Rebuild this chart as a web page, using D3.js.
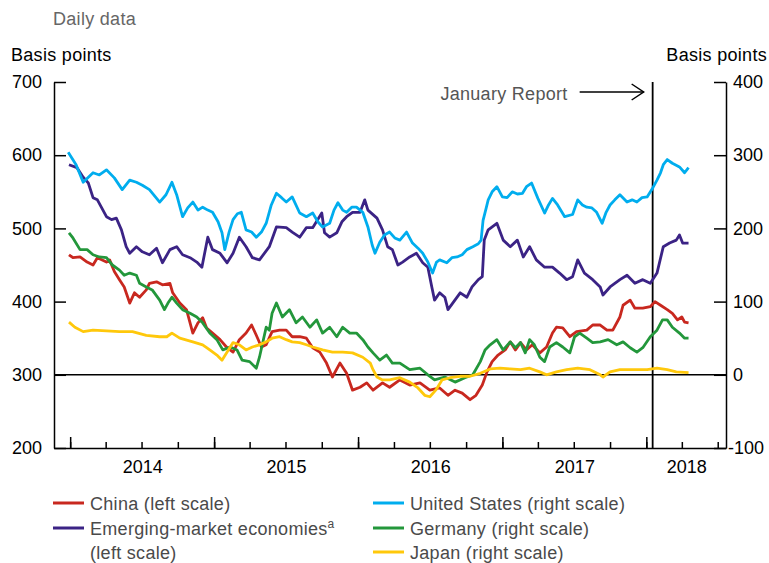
<!DOCTYPE html>
<html>
<head>
<meta charset="utf-8">
<script src="https://cdn.jsdelivr.net/npm/d3@7"></script>
<style>
  body { margin: 0; background: #fff; }
  svg text { font-family: "Liberation Sans", Arial, Helvetica, sans-serif; font-size: 18px; letter-spacing: 0.3px; }
  .axis path, .axis line { stroke: #000; stroke-width: 1.5; }
  .axis text { fill: #000; letter-spacing: 0; }
</style>
</head>
<body>
<svg id="chart" width="769" height="563"></svg>
<script>
// ----------------------------------------------------------------
// data (basis points)
// left scale: China, EME ; right scale: US, Germany, Japan
// ----------------------------------------------------------------
const chinaData = [
  ["2013-12-29",464],["2014-01-08",460],["2014-01-26",461],["2014-02-13",454],["2014-02-28",450],
  ["2014-03-11",460],["2014-04-03",454],["2014-04-11",457],["2014-04-23",441],["2014-05-06",430],
  ["2014-05-18",420],["2014-06-01",398],["2014-06-13",412],["2014-06-26",406],["2014-07-13",416],
  ["2014-07-21",425],["2014-08-08",427],["2014-08-23",423],["2014-09-11",425],["2014-09-18",412],
  ["2014-10-06",398],["2014-10-23",389],["2014-11-08",357],["2014-11-21",371],["2014-12-03",378],
  ["2014-12-13",364],["2014-12-28",357],["2015-01-16",348],["2015-02-03",337],["2015-02-18",331],
  ["2015-03-06",348],["2015-03-23",357],["2015-04-06",368],["2015-04-18",354],["2015-05-01",338],
  ["2015-05-13",341],["2015-05-28",359],["2015-06-16",361],["2015-07-03",361],["2015-07-18",352],
  ["2015-08-06",352],["2015-08-23",350],["2015-09-08",337],["2015-09-26",331],["2015-10-13",316],
  ["2015-10-28",297],["2015-11-16",316],["2015-12-03",302],["2015-12-18",279],["2016-01-06",283],
  ["2016-01-23",289],["2016-02-08",279],["2016-03-03",289],["2016-03-21",283],["2016-04-16",293],
  ["2016-05-11",286],["2016-06-06",289],["2016-07-01",279],["2016-07-26",282],["2016-08-16",272],
  ["2016-09-03",279],["2016-09-21",275],["2016-10-11",266],["2016-10-26",272],["2016-11-11",286],
  ["2016-11-23",304],["2016-12-06",318],["2016-12-21",327],["2017-01-08",334],["2017-01-21",345],
  ["2017-02-03",334],["2017-02-16",344],["2017-03-03",334],["2017-03-18",341],["2017-04-06",330],
  ["2017-04-23",338],["2017-05-08",357],["2017-05-18",365],["2017-06-03",364],["2017-06-21",352],
  ["2017-07-08",359],["2017-08-03",361],["2017-08-18",368],["2017-09-06",368],["2017-09-23",361],
  ["2017-10-08",361],["2017-10-26",379],["2017-11-03",395],["2017-11-21",402],["2017-12-03",391],
  ["2017-12-23",391],["2018-01-11",393],["2018-01-23",400],["2018-02-06",395],["2018-02-23",389],
  ["2018-03-08",384],["2018-03-21",375],["2018-04-01",379],["2018-04-08",372],["2018-04-18",371]
];

const emeData = [
  ["2013-12-29",587],["2014-01-18",583],["2014-02-03",570],["2014-02-16",562],["2014-02-28",542],
  ["2014-03-11",539],["2014-03-21",529],["2014-04-03",516],["2014-04-16",512],["2014-04-28",514],
  ["2014-05-11",498],["2014-05-23",475],["2014-06-01",466],["2014-06-18",475],["2014-07-03",468],
  ["2014-07-21",464],["2014-08-08",473],["2014-08-23",453],["2014-09-11",471],["2014-09-28",475],
  ["2014-10-13",464],["2014-11-01",460],["2014-11-18",454],["2014-12-01",447],["2014-12-16",488],
  ["2014-12-28",471],["2015-01-16",466],["2015-02-03",453],["2015-02-18",466],["2015-03-06",488],
  ["2015-03-23",475],["2015-04-08",460],["2015-04-26",457],["2015-05-21",475],["2015-06-08",502],
  ["2015-07-03",501],["2015-07-18",495],["2015-08-06",488],["2015-08-23",501],["2015-09-08",501],
  ["2015-10-01",521],["2015-10-08",494],["2015-10-21",488],["2015-11-08",494],["2015-11-21",509],
  ["2015-12-03",516],["2015-12-18",522],["2016-01-06",522],["2016-01-18",539],["2016-01-26",525],
  ["2016-02-18",514],["2016-03-03",498],["2016-03-16",475],["2016-03-28",471],["2016-04-11",450],
  ["2016-04-23",454],["2016-05-11",461],["2016-05-28",466],["2016-06-13",453],["2016-06-26",447],
  ["2016-07-06",420],["2016-07-13",402],["2016-07-26",412],["2016-08-08",406],["2016-08-16",389],
  ["2016-08-28",398],["2016-09-16",412],["2016-10-03",406],["2016-10-16",420],["2016-11-01",430],
  ["2016-11-11",434],["2016-11-16",484],["2016-11-26",498],["2016-12-18",507],["2017-01-03",484],
  ["2017-01-21",475],["2017-02-08",484],["2017-02-23",461],["2017-03-11",475],["2017-03-28",457],
  ["2017-04-18",447],["2017-05-08",447],["2017-05-26",439],["2017-06-13",430],["2017-06-28",434],
  ["2017-07-11",457],["2017-07-28",439],["2017-08-18",430],["2017-09-06",420],["2017-09-13",409],
  ["2017-10-01",420],["2017-10-26",430],["2017-11-13",436],["2017-12-03",425],["2017-12-23",430],
  ["2018-01-11",425],["2018-01-28",439],["2018-02-13",475],["2018-03-01",480],["2018-03-18",484],
  ["2018-03-26",491],["2018-04-03",480],["2018-04-18",480]
];

const usData = [
  ["2013-12-27",304],["2014-01-16",287],["2014-02-03",263],["2014-02-28",276],["2014-03-16",273],
  ["2014-04-03",280],["2014-04-23",269],["2014-05-13",253],["2014-06-01",266],["2014-06-18",263],
  ["2014-07-03",259],["2014-07-21",253],["2014-08-16",236],["2014-09-01",246],["2014-09-16",263],
  ["2014-09-28",246],["2014-10-13",216],["2014-10-26",228],["2014-11-08",236],["2014-11-21",225],
  ["2014-12-03",229],["2014-12-16",225],["2014-12-28",222],["2015-01-11",209],["2015-01-21",194],
  ["2015-01-28",171],["2015-02-08",195],["2015-02-18",212],["2015-03-01",220],["2015-03-11",222],
  ["2015-03-23",198],["2015-04-06",195],["2015-04-18",188],["2015-05-01",195],["2015-05-13",207],
  ["2015-05-26",232],["2015-06-08",248],["2015-06-21",242],["2015-07-03",236],["2015-07-18",243],
  ["2015-08-06",221],["2015-08-23",216],["2015-09-08",221],["2015-09-21",209],["2015-10-03",202],
  ["2015-10-21",207],["2015-11-01",225],["2015-11-11",235],["2015-11-23",225],["2015-12-03",222],
  ["2015-12-16",229],["2015-12-28",229],["2016-01-13",222],["2016-01-26",202],["2016-02-06",177],
  ["2016-02-13",166],["2016-02-25",181],["2016-03-08",191],["2016-03-21",195],["2016-04-03",187],
  ["2016-04-16",184],["2016-05-03",195],["2016-05-18",180],["2016-06-01",173],["2016-06-13",166],
  ["2016-06-26",154],["2016-07-08",139],["2016-07-18",154],["2016-07-26",157],["2016-08-13",153],
  ["2016-08-26",160],["2016-09-08",161],["2016-09-21",164],["2016-10-03",171],["2016-10-18",175],
  ["2016-11-01",179],["2016-11-08",184],["2016-11-13",211],["2016-11-21",228],["2016-11-26",239],
  ["2016-12-06",250],["2016-12-18",257],["2017-01-01",243],["2017-01-13",242],["2017-01-26",250],
  ["2017-02-08",247],["2017-02-21",248],["2017-03-03",257],["2017-03-16",262],["2017-04-01",241],
  ["2017-04-18",221],["2017-04-28",232],["2017-05-08",241],["2017-05-21",232],["2017-06-08",216],
  ["2017-06-28",219],["2017-07-11",239],["2017-07-23",232],["2017-08-03",229],["2017-08-16",228],
  ["2017-08-28",222],["2017-09-11",207],["2017-09-21",222],["2017-10-01",232],["2017-10-13",239],
  ["2017-10-26",246],["2017-11-13",236],["2017-11-26",239],["2017-12-08",236],["2017-12-21",242],
  ["2018-01-03",243],["2018-01-18",256],["2018-01-28",266],["2018-02-06",276],["2018-02-13",287],
  ["2018-02-23",294],["2018-03-08",289],["2018-03-26",284],["2018-04-08",276],["2018-04-18",283]
];

const germanyData = [
  ["2013-12-29",194],["2014-01-08",187],["2014-01-26",171],["2014-02-13",171],["2014-02-28",164],
  ["2014-03-16",161],["2014-04-03",160],["2014-04-18",150],["2014-05-06",143],["2014-05-18",136],
  ["2014-06-01",139],["2014-06-18",136],["2014-06-26",125],["2014-07-13",120],["2014-07-28",116],
  ["2014-08-16",102],["2014-08-28",89],["2014-09-06",98],["2014-09-16",106],["2014-09-28",98],
  ["2014-10-13",89],["2014-11-01",84],["2014-11-18",79],["2014-12-03",71],["2014-12-21",57],
  ["2015-01-08",48],["2015-01-23",34],["2015-02-11",38],["2015-02-28",34],["2015-03-13",20],
  ["2015-04-01",18],["2015-04-18",9],["2015-04-26",24],["2015-05-13",65],["2015-05-21",61],
  ["2015-05-28",84],["2015-06-08",98],["2015-06-23",79],["2015-07-11",89],["2015-07-28",71],
  ["2015-08-13",79],["2015-09-01",65],["2015-09-18",75],["2015-10-03",57],["2015-10-21",65],
  ["2015-11-08",52],["2015-11-23",65],["2015-12-11",57],["2015-12-28",57],["2016-01-13",48],
  ["2016-01-26",38],["2016-02-08",30],["2016-02-25",20],["2016-03-13",27],["2016-03-28",16],
  ["2016-04-16",16],["2016-05-11",7],["2016-06-06",9],["2016-06-26",0],["2016-07-13",-7],
  ["2016-08-08",-3],["2016-09-03",-10],["2016-09-28",-4],["2016-10-18",0],["2016-11-06",18],
  ["2016-11-18",34],["2016-12-01",41],["2016-12-18",48],["2017-01-03",34],["2017-01-21",45],
  ["2017-02-03",37],["2017-02-16",44],["2017-02-28",30],["2017-03-11",48],["2017-03-23",41],
  ["2017-04-06",24],["2017-04-18",18],["2017-05-01",38],["2017-05-18",44],["2017-06-03",38],
  ["2017-06-21",30],["2017-07-03",52],["2017-07-16",57],["2017-08-03",50],["2017-08-18",44],
  ["2017-09-06",45],["2017-09-26",48],["2017-10-18",41],["2017-11-03",45],["2017-11-21",37],
  ["2017-12-08",31],["2017-12-23",37],["2018-01-11",52],["2018-01-28",61],["2018-02-11",75],
  ["2018-02-23",75],["2018-03-08",65],["2018-03-26",57],["2018-04-08",50],["2018-04-18",50]
];

const japanData = [
  ["2013-12-29",72],["2014-01-13",65],["2014-02-03",59],["2014-02-28",61],["2014-04-03",60],
  ["2014-05-06",59],["2014-06-08",59],["2014-07-13",54],["2014-08-16",52],["2014-09-03",52],
  ["2014-09-16",57],["2014-10-06",50],["2014-11-08",45],["2014-12-03",41],["2014-12-21",34],
  ["2015-01-08",27],["2015-01-21",20],["2015-02-03",31],["2015-02-18",44],["2015-03-06",41],
  ["2015-03-23",34],["2015-04-08",38],["2015-04-26",41],["2015-05-13",45],["2015-05-28",50],
  ["2015-06-16",52],["2015-07-03",48],["2015-07-18",45],["2015-08-06",44],["2015-08-23",41],
  ["2015-09-08",38],["2015-10-03",34],["2015-10-28",31],["2015-11-23",31],["2015-12-18",30],
  ["2016-01-13",24],["2016-02-01",16],["2016-02-08",7],["2016-02-18",-3],["2016-03-03",-7],
  ["2016-03-21",-7],["2016-04-16",-4],["2016-05-11",-10],["2016-06-01",-18],["2016-06-18",-28],
  ["2016-07-01",-30],["2016-07-16",-21],["2016-08-01",-7],["2016-08-21",-4],["2016-09-16",-2],
  ["2016-10-11",-2],["2016-11-06",2],["2016-12-01",8],["2016-12-26",9],["2017-01-21",8],
  ["2017-02-16",7],["2017-03-11",9],["2017-04-06",4],["2017-04-23",0],["2017-05-18",4],
  ["2017-06-13",7],["2017-07-11",9],["2017-08-11",7],["2017-09-06",0],["2017-09-13",-3],
  ["2017-10-01",4],["2017-10-26",7],["2017-11-28",7],["2018-01-03",7],["2018-01-28",9],
  ["2018-02-23",7],["2018-03-18",4],["2018-04-18",3]
];

const leftTicks = [200, 300, 400, 500, 600, 700];
const rightTicks = [-100, 0, 100, 200, 300, 400];
const yearLabels = ["2014", "2015", "2016", "2017", "2018"];
const reportDate = "2018-01-17";

const series = [
  {name: "China (left scale)", data: chinaData, scale: "left", color: "#c8281f"},
  {name: "Emerging-market economies", sup: "a", name2: "(left scale)", data: emeData, scale: "left", color: "#3b2385"},
  {name: "United States (right scale)", data: usData, scale: "right", color: "#00adee"},
  {name: "Germany (right scale)", data: germanyData, scale: "right", color: "#23973b"},
  {name: "Japan (right scale)", data: japanData, scale: "right", color: "#ffc80b"}
];

// ----------------------------------------------------------------
// chart
// ----------------------------------------------------------------
const svg = d3.select('#chart');
const parse = d3.timeParse('%Y-%m-%d');

const plot = {left: 54, right: 726, top: 82, bottom: 448};

const x = d3.scaleTime()
    .domain([new Date(2013, 10, 21), new Date(2018, 6, 22)])
    .range([plot.left, plot.right]);
const yL = d3.scaleLinear().domain([200, 700]).range([plot.bottom, plot.top]);
const yR = d3.scaleLinear().domain([-100, 400]).range([plot.bottom, plot.top]);

// header texts
svg.append('text').attr('x', 53).attr('y', 25).attr('fill', '#666').text('Daily data');
svg.append('text').attr('x', 11).attr('y', 61).attr('fill', '#000').text('Basis points');
svg.append('text').attr('x', 767).attr('y', 61).attr('text-anchor', 'end')
    .attr('fill', '#000').text('Basis points');

// zero line of the right scale
svg.append('line')
    .attr('x1', plot.left).attr('x2', plot.right)
    .attr('y1', yR(0)).attr('y2', yR(0))
    .attr('stroke', '#000').attr('stroke-width', 1.5);

// january report marker
const rx = x(parse(reportDate));
svg.append('line')
    .attr('x1', rx).attr('x2', rx).attr('y1', plot.top).attr('y2', plot.bottom)
    .attr('stroke', '#000').attr('stroke-width', 1.8);
svg.append('line')
    .attr('x1', rx - 73).attr('x2', rx - 9).attr('y1', 92).attr('y2', 92)
    .attr('stroke', '#000').attr('stroke-width', 1.5);
svg.append('path')
    .attr('d', `M${rx - 21},84 L${rx - 9},92 L${rx - 21},100`)
    .attr('fill', 'none').attr('stroke', '#000').attr('stroke-width', 1.5);
svg.append('text')
    .attr('x', rx - 85).attr('y', 100).attr('text-anchor', 'end')
    .attr('fill', '#555').text('January Report');

// axes
svg.append('g')
    .attr('class', 'axis')
    .attr('transform', `translate(${plot.left},0)`)
    .call(d3.axisLeft(yL).tickValues(leftTicks).tickSize(-12).tickSizeOuter(0).tickPadding(12)
        .tickFormat(d => String(d)))
    .call(g => g.selectAll('text').style('font-size', '18px'));

svg.append('g')
    .attr('class', 'axis')
    .attr('transform', `translate(${plot.right},0)`)
    .call(d3.axisRight(yR).tickValues(rightTicks).tickSize(-12).tickSizeOuter(0).tickPadding(7)
        .tickFormat(d => String(d)))
    .call(g => g.selectAll('text').style('font-size', '18px')
        .attr('dx', d => d < 0 ? -5 : 0));

const quarters = d3.timeMonth.every(3).range(x.domain()[0], x.domain()[1]);
svg.append('g')
    .attr('class', 'axis')
    .attr('transform', `translate(0,${plot.bottom})`)
    .call(d3.axisBottom(x).tickValues(quarters).tickSize(-6).tickSizeOuter(0).tickFormat(''));

svg.append('g')
    .attr('class', 'axis')
    .attr('transform', `translate(0,${plot.bottom})`)
    .call(d3.axisBottom(x).tickValues(d3.timeYear.range(x.domain()[0], x.domain()[1]))
        .tickSize(-11).tickFormat(''))
    .call(g => g.select('.domain').remove());

// year labels, centred in the visible part of each year
const labelDates = yearLabels.map(yr => {
    const a = Math.max(new Date(+yr, 0, 1), x.domain()[0]);
    const b = Math.min(new Date(+yr + 1, 0, 1), x.domain()[1]);
    return new Date((a + b) / 2);
});
svg.append('g')
    .attr('class', 'axis')
    .attr('transform', `translate(0,${plot.bottom})`)
    .call(d3.axisBottom(x).tickValues(labelDates).tickSize(0).tickPadding(12)
        .tickFormat((d, i) => yearLabels[i]))
    .call(g => g.select('.domain').remove())
    .call(g => g.selectAll('text').style('font-size', '18px'));

// lines
const lineGen = yScale => d3.line()
    .x(d => x(parse(d[0])))
    .y(d => yScale(d[1]));

series.forEach(s => {
    svg.append('path')
        .datum(s.data)
        .attr('fill', 'none')
        .attr('stroke', s.color)
        .attr('stroke-width', 2.8)
        .attr('stroke-linejoin', 'round')
        .attr('d', lineGen(s.scale === 'left' ? yL : yR));
});

// legend
const legendPos = [[53, 503], [53, 528], [373, 503], [373, 528], [373, 552]];
series.forEach((s, i) => {
    const [lx, ly] = legendPos[i];
    svg.append('line')
        .attr('x1', lx).attr('x2', lx + 31).attr('y1', ly).attr('y2', ly)
        .attr('stroke', s.color).attr('stroke-width', 3);
    const t = svg.append('text')
        .attr('x', lx + 37).attr('y', ly + 6.5)
        .attr('fill', '#4a4a4a')
        .text(s.name);
    if (s.sup) {
        t.append('tspan').attr('dy', -7).style('font-size', '12px').text(s.sup);
    }
    if (s.name2) {
        svg.append('text')
            .attr('x', lx + 37).attr('y', ly + 30.5)
            .attr('fill', '#4a4a4a')
            .text(s.name2);
    }
});
</script>
</body>
</html>
